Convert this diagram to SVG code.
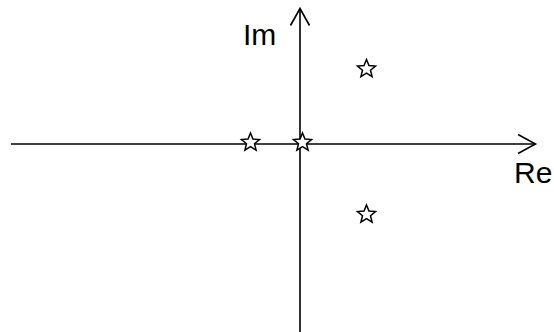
<svg xmlns="http://www.w3.org/2000/svg" xmlns:xlink="http://www.w3.org/1999/xlink" width="554" height="332" viewBox="0 0 554 332">
<style>
.axis{stroke:#000;stroke-width:1.6;fill:none}
.head{stroke:#000;stroke-width:1.6;fill:none;stroke-linejoin:miter}
.star{fill:#fff;stroke:#000;stroke-width:1.5;stroke-linejoin:miter}
.lbl{font-family:"Liberation Sans",Arial,sans-serif;font-size:30px;fill:#000}
</style>
<defs>
<path id="star" class="star" d="M0,-9.5 L2.47,-3.4 L9.04,-2.94 L3.99,1.3 L5.58,7.69 L0,4.2 L-5.58,7.69 L-3.99,1.3 L-9.04,-2.94 L-2.47,-3.4 Z"/>
</defs>
<rect width="554" height="332" fill="#fff"/>
<g id="connectors">
<line class="axis" x1="11" y1="144" x2="535" y2="144"/>
<polyline class="head" points="518,134.5 535.5,144 518,153.5"/>
<line class="axis" x1="300" y1="332" x2="300" y2="9"/>
<polyline class="head" points="290.5,25.5 300,8.5 309.5,25.5"/>
</g>
<g id="labels">
<text class="lbl" x="243" y="45">Im</text>
<text class="lbl" x="514" y="183">Re</text>
</g>
<g id="star1"><use xlink:href="#star" x="250.5" y="142.5"/></g>
<g id="star2"><use xlink:href="#star" x="302.5" y="142.5"/></g>
<g id="star3"><use xlink:href="#star" x="366.5" y="69"/></g>
<g id="star4"><use xlink:href="#star" x="366.5" y="214.5"/></g>
</svg>
